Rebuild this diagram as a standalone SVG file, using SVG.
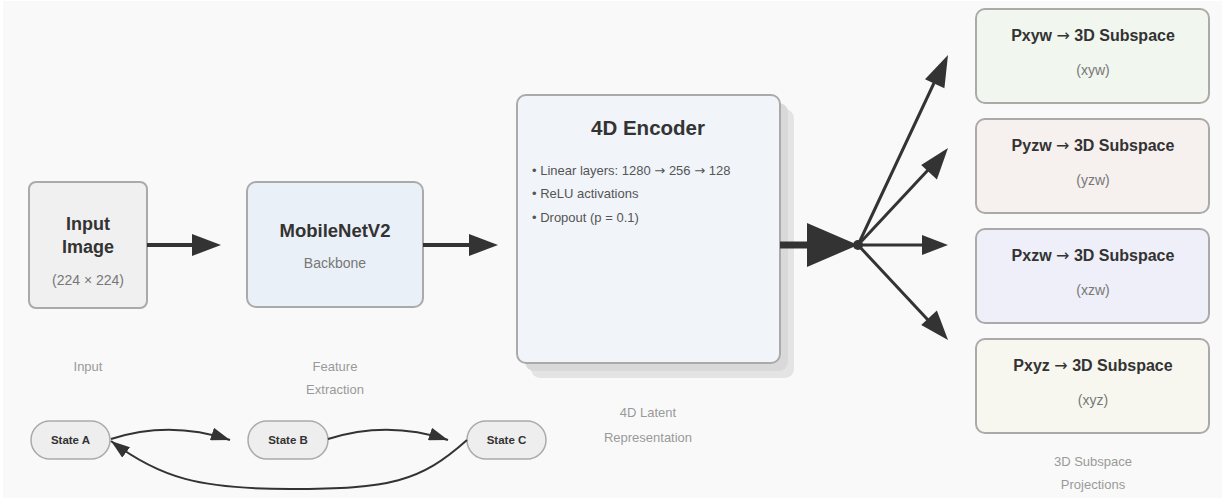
<svg xmlns="http://www.w3.org/2000/svg" width="1225" height="500" viewBox="0 0 1225 500">
  <style>
    text { font-family: "Liberation Sans", Arial, sans-serif; }
    .arr { font-family: "DejaVu Sans", sans-serif; font-weight: normal; }
    .box { stroke: #aaaaaa; stroke-width: 2; }
    .title { font-weight: bold; fill: #333333; text-anchor: middle; }
    .sub { fill: #777777; text-anchor: middle; font-size: 14px; }
    .caption { fill: #999999; text-anchor: middle; font-size: 13px; }
    .bullet { fill: #555555; font-size: 13px; }
    .flow { stroke: #333333; fill: none; }
    .state { fill: #eeeeee; stroke: #aaaaaa; stroke-width: 1.5; }
    .state-label { font-weight: bold; font-size: 11.5px; fill: #333333; text-anchor: middle; }
  </style>
  <defs>
    <marker id="head-small" viewBox="0 0 19 13" refX="19" refY="6.5" markerWidth="19" markerHeight="13" markerUnits="userSpaceOnUse" orient="auto">
      <path d="M0,0 L19,6.5 L0,13 z" fill="#333333"/>
    </marker>
  </defs>

  <!-- canvas -->
  <rect x="0" y="0" width="1225" height="500" fill="#ffffff"/>
  <rect x="3" y="1" width="1219" height="497" fill="#f9f9f9"/>

  <!-- input image -->
  <g id="input-image">
    <rect class="box" x="29" y="182" width="118" height="126" rx="7" fill="#f0f0f0" stroke="#bbbbbb"/>
    <text class="title" x="88" y="230" font-size="18">Input</text>
    <text class="title" x="88" y="253" font-size="18">Image</text>
    <text class="sub" x="88" y="285" font-size="15.5">(224 × 224)</text>
  </g>

  <!-- backbone -->
  <g id="backbone">
    <rect class="box" x="247" y="182" width="176" height="125" rx="9" fill="#eaf0f7"/>
    <text class="title" x="335" y="237" font-size="18.5">MobileNetV2</text>
    <text class="sub" x="335" y="268" font-size="15.5">Backbone</text>
  </g>

  <!-- encoder -->
  <g id="encoder">
    <rect x="531" y="109" width="263" height="269" rx="9" fill="#e4e4e4"/>
    <rect x="525" y="103" width="263" height="268" rx="9" fill="#d9d9d9"/>
    <rect class="box" x="517" y="95" width="263" height="268" rx="9" fill="#f1f4f9"/>
    <text class="title" x="648" y="135" font-size="20.5">4D Encoder</text>
    <text class="bullet" x="532" y="175">• Linear layers: 1280 <tspan class="arr">→</tspan> 256 <tspan class="arr">→</tspan> 128</text>
    <text class="bullet" x="532" y="198">• ReLU activations</text>
    <text class="bullet" x="532" y="222">• Dropout (p = 0.1)</text>
  </g>

  <!-- projections -->
  <g id="proj-xyw">
    <rect class="box" x="976" y="9" width="233" height="94" rx="9" fill="#f1f6ef"/>
    <text class="title" x="1093" y="41" font-size="16">Pxyw <tspan class="arr">→</tspan> 3D Subspace</text>
    <text class="sub" x="1093" y="75">(xyw)</text>
  </g>
  <g id="proj-yzw">
    <rect class="box" x="976" y="119" width="233" height="94" rx="9" fill="#f6f0ef"/>
    <text class="title" x="1093" y="151" font-size="16">Pyzw <tspan class="arr">→</tspan> 3D Subspace</text>
    <text class="sub" x="1093" y="185">(yzw)</text>
  </g>
  <g id="proj-xzw">
    <rect class="box" x="976" y="229" width="233" height="94" rx="9" fill="#eeeff8"/>
    <text class="title" x="1093" y="261" font-size="16">Pxzw <tspan class="arr">→</tspan> 3D Subspace</text>
    <text class="sub" x="1093" y="295">(xzw)</text>
  </g>
  <g id="proj-xyz">
    <rect class="box" x="976" y="339" width="233" height="94" rx="9" fill="#f7f7f0"/>
    <text class="title" x="1093" y="371" font-size="16">Pxyz <tspan class="arr">→</tspan> 3D Subspace</text>
    <text class="sub" x="1093" y="405">(xyz)</text>
  </g>

  <!-- stage captions -->
  <g id="captions">
    <text class="caption" x="88" y="371">Input</text>
    <text class="caption" x="335" y="371">Feature</text>
    <text class="caption" x="335" y="394">Extraction</text>
    <text class="caption" x="648" y="417">4D Latent</text>
    <text class="caption" x="648" y="442">Representation</text>
    <text class="caption" x="1093" y="466">3D Subspace</text>
    <text class="caption" x="1093" y="489">Projections</text>
  </g>

  <!-- states -->
  <g id="state-a">
    <rect class="state" x="31" y="421" width="79" height="38" rx="19"/>
    <text class="state-label" x="70.5" y="444">State A</text>
  </g>
  <g id="state-b">
    <rect class="state" x="248" y="421" width="80" height="38" rx="19"/>
    <text class="state-label" x="288" y="444">State B</text>
  </g>
  <g id="state-c">
    <rect class="state" x="467" y="421" width="79" height="38" rx="19"/>
    <text class="state-label" x="506.5" y="444">State C</text>
  </g>

  <!-- connectors -->
  <g id="connectors">
    <!-- main pipeline -->
    <line class="flow" x1="147" y1="245" x2="194" y2="245" stroke-width="4"/>
    <path d="M192,234 L221,245 L192,256 z" fill="#333333"/>
    <line class="flow" x1="423" y1="245" x2="470" y2="245" stroke-width="4"/>
    <path d="M469,234 L498,245 L469,256 z" fill="#333333"/>
    <!-- encoder to hub -->
    <line class="flow" x1="780" y1="245" x2="810" y2="245" stroke-width="7"/>
    <path d="M807,223 L858,245 L807,267 z" fill="#333333"/>
    <circle cx="858" cy="245" r="5" fill="#333333"/>
    <!-- hub to projections -->
    <line class="flow" x1="858" y1="245" x2="934" y2="83" stroke-width="3"/>
    <path d="M948,55 L944.4,88.3 L925.0,79.2 z" fill="#333333"/>
    <line class="flow" x1="858" y1="245" x2="928" y2="170" stroke-width="3"/>
    <path d="M948,148 L936.9,179.6 L921.2,165.0 z" fill="#333333"/>
    <line class="flow" x1="858" y1="245" x2="924" y2="245" stroke-width="3"/>
    <path d="M922,235 L948,245 L922,255 z" fill="#333333"/>
    <line class="flow" x1="858" y1="245" x2="928" y2="320" stroke-width="3"/>
    <path d="M948,340 L921.2,325.0 L936.9,310.4 z" fill="#333333"/>
    <!-- state cycle -->
    <path class="flow" d="M111,439 Q170,420 230,440" stroke-width="2" marker-end="url(#head-small)"/>
    <path class="flow" d="M328,439 Q388,420 448,440" stroke-width="2" marker-end="url(#head-small)"/>
    <path class="flow" d="M467,440 C420,482 390,489 290,489 C200,489 160,478 111,441" stroke-width="2" marker-end="url(#head-small)"/>
  </g>
</svg>
